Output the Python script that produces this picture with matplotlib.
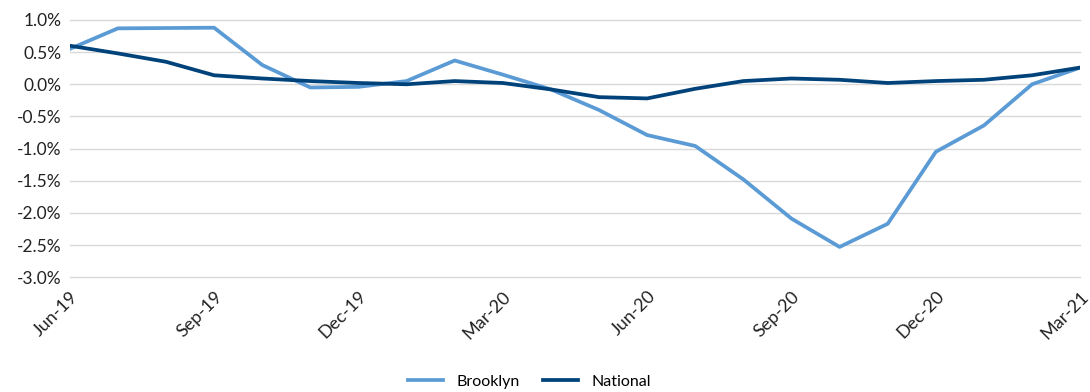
import numpy as np
import matplotlib
matplotlib.use('Agg')
from matplotlib import pyplot as plt
from matplotlib.ticker import FuncFormatter

months = ['Jun-19', 'Jul-19', 'Aug-19', 'Sep-19', 'Oct-19', 'Nov-19', 'Dec-19',
          'Jan-20', 'Feb-20', 'Mar-20', 'Apr-20', 'May-20', 'Jun-20', 'Jul-20',
          'Aug-20', 'Sep-20', 'Oct-20', 'Nov-20', 'Dec-20', 'Jan-21', 'Feb-21',
          'Mar-21']
brooklyn = [0.55, 0.87, 0.875, 0.88, 0.30, -0.05, -0.04, 0.05, 0.37, 0.15, -0.08,
            -0.40, -0.79, -0.96, -1.48, -2.09, -2.53, -2.17, -1.05, -0.64, 0.0, 0.26]
national = [0.60, 0.48, 0.35, 0.14, 0.09, 0.05, 0.02, 0.0, 0.05, 0.02, -0.08,
            -0.20, -0.22, -0.07, 0.05, 0.09, 0.07, 0.02, 0.05, 0.07, 0.14, 0.26]

plt.rcParams['font.family'] = ['Lato', 'DejaVu Sans']

fig = plt.figure(figsize=(10.9, 3.92), dpi=100)
ax = fig.add_axes([0.064, 0.293, 0.927, 0.656])

x = np.arange(len(months))
ax.plot(x, brooklyn, color='#5B9BD5', lw=2.7, label='Brooklyn')
ax.plot(x, national, color='#00427A', lw=2.7, label='National')

ax.set_xlim(0, len(months) - 1)
ax.set_ylim(-3.0, 1.0)
ax.set_yticks(np.arange(-3.0, 1.01, 0.5))
ax.yaxis.set_major_formatter(FuncFormatter(lambda v, p: f'{v:.1f}%'))
ax.set_xticks(x[::3])
ax.set_xticklabels(months[::3], rotation=45, ha='right', rotation_mode='anchor')

ax.grid(axis='y', color='#D9D9D9', lw=1)
for gl in ax.get_ygridlines():
    gl.set_clip_on(False)
ax.set_axisbelow(True)
for s in ax.spines.values():
    s.set_visible(False)
ax.tick_params(length=0, labelsize=12.5, colors='#222222')
ax.tick_params(axis='x', pad=8, labelsize=13)
ax.tick_params(axis='y', pad=6)

ax.legend(loc='lower center', bbox_to_anchor=(0.455, -0.49), ncol=2, frameon=False,
          fontsize=11.5, handlelength=2.2, columnspacing=1.5)

fig.savefig('out.png', dpi=100)
